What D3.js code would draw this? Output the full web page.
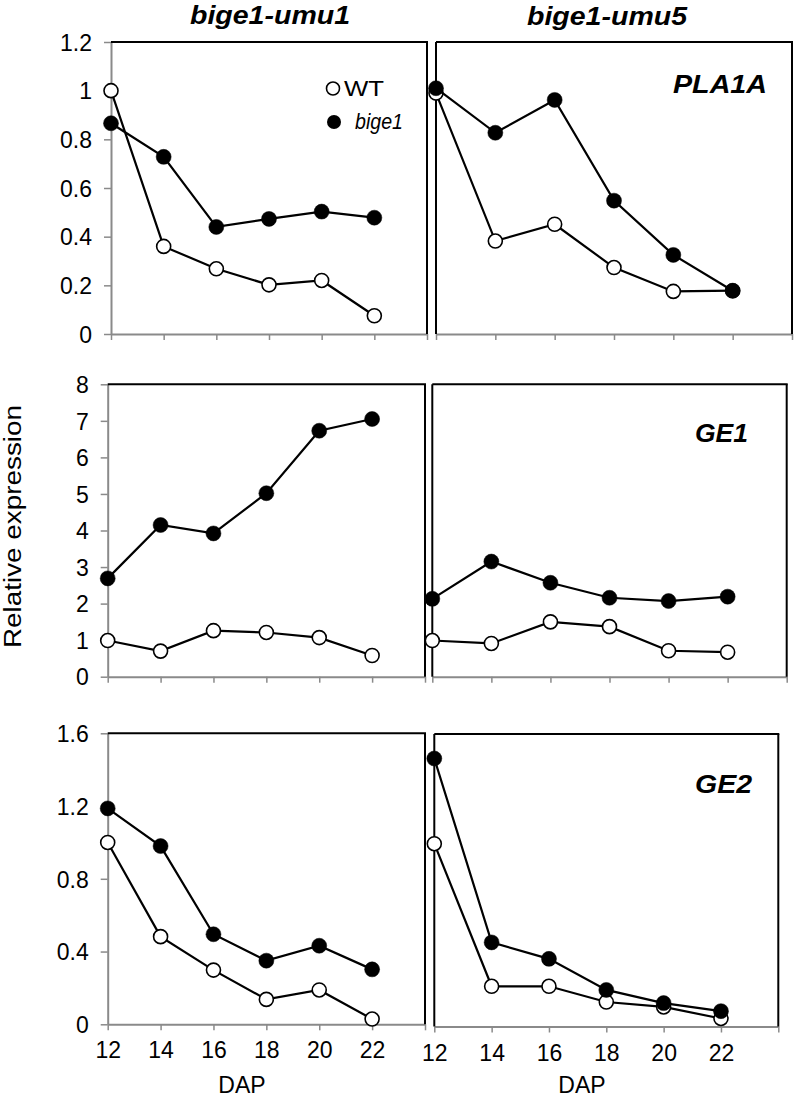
<!DOCTYPE html>
<html><head><meta charset="utf-8">
<script src="https://cdn.jsdelivr.net/npm/d3@7"></script>
<style>body{margin:0;background:#fff} svg{display:block} text{font-family:"Liberation Sans",Arial,sans-serif;fill:#000}</style>
</head><body><svg id="c" width="796" height="1098"></svg>
<script>
// ---- data ----
const days = [12,14,16,18,20,22];
const xTicks = [12,14,16,18,20,22,24];
const xTickLabels = ["12","14","16","18","20","22"];
const strainTitles = ["bige1-umu1","bige1-umu5"];
const genes = ["PLA1A","GE1","GE2"];
const seriesNames = ["WT","bige1"];
const yTicksPLA1A = [0,0.2,0.4,0.6,0.8,1,1.2];
const yTicksGE1 = [0,1,2,3,4,5,6,7,8];
const yTicksGE2 = [0,0.4,0.8,1.2,1.6];
const pla1aUmu1WT = [1.0,0.36,0.268,0.202,0.22,0.075];
const pla1aUmu1Bige1 = [0.866,0.728,0.44,0.473,0.503,0.478];
const pla1aUmu5WT = [0.99,0.382,0.451,0.273,0.175,0.178];
const pla1aUmu5Bige1 = [1.01,0.827,0.962,0.548,0.325,0.178];
const ge1Umu1WT = [0.99,0.70,1.26,1.21,1.07,0.58];
const ge1Umu1Bige1 = [2.69,4.15,3.92,5.02,6.73,7.05];
const ge1Umu5WT = [0.99,0.91,1.50,1.37,0.71,0.67];
const ge1Umu5Bige1 = [2.13,3.15,2.57,2.16,2.07,2.19];
const ge2Umu1WT = [1.0,0.482,0.298,0.137,0.189,0.029];
const ge2Umu1Bige1 = [1.187,0.98,0.495,0.35,0.432,0.302];
const ge2Umu5WT = [1.0,0.22,0.22,0.134,0.107,0.044];
const ge2Umu5Bige1 = [1.466,0.46,0.37,0.20,0.128,0.084];

// ---- layout ----
const rows = [
  {ticks:yTicksPLA1A, max:1.2, gene:genes[0], data:[[pla1aUmu1WT,pla1aUmu1Bige1],[pla1aUmu5WT,pla1aUmu5Bige1]],
   panels:[{x0:111,x1:427,top:42,bottom:334},{x0:436,x1:792,top:42,bottom:334}], geneX:673, geneY:93, geneW:94},
  {ticks:yTicksGE1, max:8, gene:genes[1], data:[[ge1Umu1WT,ge1Umu1Bige1],[ge1Umu5WT,ge1Umu5Bige1]],
   panels:[{x0:107.7,x1:425,top:384.3,bottom:676.7},{x0:432.3,x1:786.7,top:384.3,bottom:676.7}], geneX:695, geneY:442, geneW:53},
  {ticks:yTicksGE2, max:1.6, gene:genes[2], data:[[ge2Umu1WT,ge2Umu1Bige1],[ge2Umu5WT,ge2Umu5Bige1]],
   panels:[{x0:107.7,x1:425,top:733.3,bottom:1024.3},{x0:434.3,x1:778.3,top:734,bottom:1026.5}], geneX:695, geneY:793, geneW:57}
];
const gray = "#8a8a8a";
const svg = d3.select("#c");
const FONT = "'Liberation Sans',Arial,sans-serif";

rows.forEach((row, ri) => {
  row.panels.forEach((p, ci) => {
    const x = d3.scaleLinear().domain([12,24]).range([p.x0,p.x1]);
    const y = d3.scaleLinear().domain([0,row.max]).range([p.bottom,p.top]);
    const g = svg.append("g");
    // x axis (gray) with ticks
    const xa = g.append("g").attr("transform",`translate(0,${p.bottom})`)
      .call(d3.axisBottom(x).tickValues(xTicks).tickSize(6).tickSizeOuter(0)
        .tickFormat((d,i)=> ri===2 && i<xTickLabels.length ? xTickLabels[i] : ""));
    xa.select(".domain").attr("stroke",gray).attr("stroke-width",2);
    xa.selectAll(".tick line").attr("stroke",gray).attr("stroke-width",1.5);
    xa.selectAll(".tick text").attr("font-size",23).attr("y",34).attr("dy",0).style("font-family",FONT);
    // y axis only on left panel
    if (ci===0) {
      const ya = g.append("g").attr("transform",`translate(${p.x0},0)`)
        .call(d3.axisLeft(y).tickValues(row.ticks).tickSize(7).tickSizeOuter(0)
          .tickFormat(d=>String(+d.toFixed(1))));
      ya.select(".domain").attr("stroke",gray).attr("stroke-width",2);
      ya.selectAll(".tick line").attr("stroke",gray).attr("stroke-width",1.5);
      ya.selectAll(".tick text").attr("font-size",23).attr("x",-19).attr("dy","0.36em").style("font-family",FONT);
    }
    // plot borders (black)
    const bx = g.append("g").attr("stroke","#000").attr("stroke-width",2).attr("fill","none");
    bx.append("line").attr("x1",p.x0).attr("x2",p.x1+1).attr("y1",p.top).attr("y2",p.top);
    bx.append("line").attr("x1",p.x1).attr("x2",p.x1).attr("y1",p.top).attr("y2",p.bottom);
    if (ci===1) bx.append("line").attr("x1",p.x0).attr("x2",p.x0).attr("y1",p.top).attr("y2",p.bottom);
    // series
    const line = d3.line().x((d,i)=>x(days[i])).y(d=>y(d));
    row.data[ci].forEach((vals, si) => {
      g.append("path").datum(vals).attr("d",line).attr("fill","none").attr("stroke","#000").attr("stroke-width",2.2);
      g.selectAll(null).data(vals).enter().append("circle")
        .attr("cx",(d,i)=>x(days[i])).attr("cy",d=>y(d)).attr("r",si===0?7:7.5)
        .attr("fill",si===0?"#fff":"#000").attr("stroke","#000").attr("stroke-width",si===0?1.6:0.5);
    });
  });
  // gene label
  svg.append("text").attr("x",row.geneX).attr("y",row.geneY).attr("font-size",26)
    .attr("font-weight","bold").attr("font-style","italic")
    .attr("textLength",row.geneW).attr("lengthAdjust","spacingAndGlyphs").text(row.gene);
});

// column titles
[[270,24],[607,25]].forEach((pos,i)=>{
  svg.append("text").attr("x",pos[0]).attr("y",pos[1]).attr("text-anchor","middle")
    .attr("font-size",25).attr("font-weight","bold").attr("font-style","italic")
    .attr("textLength",160).attr("lengthAdjust","spacingAndGlyphs").text(strainTitles[i]);
});

// legend
const lg = svg.append("g");
lg.append("circle").attr("cx",333).attr("cy",88.5).attr("r",6.5).attr("fill","#fff").attr("stroke","#000").attr("stroke-width",1.6);
lg.append("circle").attr("cx",334).attr("cy",122).attr("r",7).attr("fill","#000");
lg.append("text").attr("x",344).attr("y",96).attr("font-size",22).attr("textLength",40).attr("lengthAdjust","spacingAndGlyphs").text(seriesNames[0]);
lg.append("text").attr("x",355).attr("y",129).attr("font-size",22).attr("font-style","italic").attr("textLength",48).attr("lengthAdjust","spacingAndGlyphs").text(seriesNames[1]);

// axis titles
svg.append("text").attr("transform","translate(21,526.5) rotate(-90)").attr("text-anchor","middle")
  .attr("font-size",23).attr("textLength",243).attr("lengthAdjust","spacingAndGlyphs").text("Relative expression");
svg.append("text").attr("x",242).attr("y",1093).attr("text-anchor","middle").attr("font-size",23).text("DAP");
svg.append("text").attr("x",582).attr("y",1093).attr("text-anchor","middle").attr("font-size",23).text("DAP");
</script></body></html>
